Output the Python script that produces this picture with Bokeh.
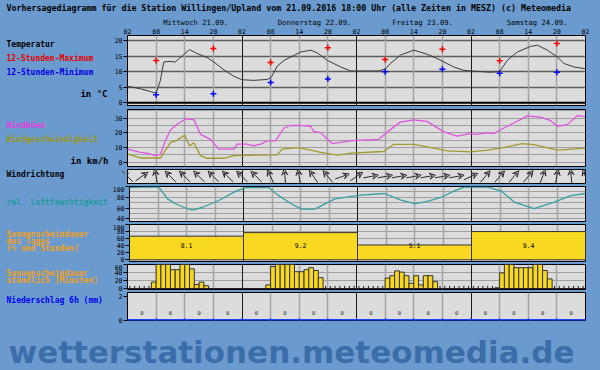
import math
from bokeh.plotting import figure
from bokeh.layouts import column, row
from bokeh.models import (Range1d, FixedTicker, Grid, Span, Label, Arrow, VeeHead,
                          ColumnDataSource)
from bokeh.core.properties import value
from bokeh.embed import file_html
from bokeh.resources import INLINE

# ---------------- data ----------------
title_text = ("Vorhersagediagramm für die Station Willingen/Upland vom 21.09.2016 "
              "18:00 Uhr (alle Zeiten in MESZ)   (c) Meteomedia")
day_labels = ["Mittwoch 21.09.", "Donnerstag 22.09.", "Freitag 23.09.", "Samstag 24.09."]
hour_ticks = list(range(0, 97, 6))          # hours since Wed 02:00
hour_labels = ["02", "08", "14", "20"] * 4 + ["02"]

# temperature curve (hour, °C)
temp_h = [0, 2.7, 4.8, 6, 6.9, 7.6, 8.7, 10, 11.5, 13, 14.6, 16.7, 18.1, 20.2, 22.3, 24,
          26.5, 29.3, 30.1, 31.4, 32.8, 34.9, 36.3, 38.4, 39.8, 41.9, 44.7, 46.8, 50.3,
          52.7, 54.1, 55.1, 57.2, 60, 62.8, 64.9, 66.3, 68.4, 70.5, 74, 76.1, 78, 79.6,
          81.7, 84.5, 85.9, 88, 90.1, 91.5, 93.6, 95.7, 96]
temp_v = [5.3, 4.5, 3.6, 3.1, 7.2, 13.1, 13.3, 13.1, 15.1, 17.1, 15.8, 14.5, 13.1, 10.6,
          8.5, 7.4, 7.2, 7.5, 8.1, 11.8, 13.6, 15.2, 16.3, 16.9, 16.0, 13.6, 11.5, 10.2,
          10.2, 10.2, 10.9, 12.6, 15.3, 16.9, 15.6, 14.2, 13.1, 11.5, 10.4, 10.0, 9.8,
          10.0, 13.6, 16.3, 18.1, 18.5, 16.9, 14.7, 12.6, 11.5, 11.0, 10.9]
ext_h = [6, 18, 30, 42, 54, 66, 78, 90]
tmax_12h = [13.6, 17.4, 12.9, 17.7, 13.9, 17.2, 13.5, 19.0]
tmin_12h = [2.6, 2.9, 6.5, 7.6, 10.0, 10.8, 9.5, 9.8]

# wind gusts and wind speed (hour, km/h)
gust_h = [0, 2.7, 4, 5.9, 6.9, 8, 9, 10.5, 12.2, 13.9, 15.3, 17.4, 19.1, 22.3, 23, 25,
          26.5, 27.9, 29.3, 31, 32.8, 34.2, 36.3, 38.4, 39, 40.5, 42.9, 44.3, 46.8, 49,
          52.6, 55.1, 57.2, 60, 62.8, 66.3, 69.1, 71.9, 73, 75.4, 76.8, 78.9, 81, 83.8,
          86.6, 88.7, 90.1, 92.2, 94.3, 96]
gust_v = [8.9, 6.7, 6.2, 4.5, 5.6, 15, 22, 26, 29.6, 29, 19, 15.6, 8.9, 8.9, 12.3, 12.3,
          11.2, 12.3, 14.5, 14.5, 23.3, 25, 25.1, 24.5, 21.1, 20, 12.7, 13.3, 14.5, 15,
          15.5, 22.2, 27.3, 28.9, 27.8, 20.7, 17.8, 19.6, 19, 20, 19.6, 23.3, 26.7, 31.6,
          30.7, 28.3, 24.5, 25.6, 31.8, 31.1]
wind_h = [0, 2.7, 6.9, 9, 10.4, 12, 13, 13.9, 15.3, 16.7, 20.2, 22.3, 27, 31.4, 32.4,
          35.6, 36.3, 38.4, 40.5, 44, 46.8, 53.7, 55.8, 60, 62.8, 67, 71.9, 75.4, 78.9,
          82.7, 85.2, 90.1, 96]
wind_v = [5.6, 2.9, 2.9, 13.3, 14.9, 18.5, 11.1, 13.3, 4.5, 2.7, 2.7, 4.5, 4.8, 5, 8.9,
          10, 9.6, 8.3, 6.7, 4.9, 6.2, 7.3, 12.2, 12.2, 10.5, 7.8, 7.1, 8.3, 10, 12.7, 12,
          8.3, 9.6]

# wind direction (meteorological, degrees "from"), every 3 hours
dir_h = list(range(0, 97, 3))
dir_from = [135, 235, 170, 135, 135, 135, 135, 135, 135, 135, 155, 175, 170, 145, 140,
            250, 235, 260, 260, 260, 260, 260, 260, 260, 245, 220, 220, 220, 220, 200,
            190, 175, 160]

# relative humidity (hour, %)
hum_h = [0, 3, 6.2, 8, 9.7, 11.5, 13.2, 15.3, 18.8, 22.3, 24.4, 29.3, 31.4, 34.2, 36.3,
         39, 43.2, 48.6, 53.7, 57, 60, 62.5, 65.6, 68.4, 70.5, 75.4, 78.2, 81, 85.2, 89.4,
         92.9, 96]
hum_v = [98, 99, 99, 77, 68, 61, 56, 61, 74, 91, 98, 98, 83, 67, 58, 58, 77, 84, 87, 75,
         68, 72, 80, 92, 99, 99, 92, 71, 59, 71, 83, 87]

# daily sunshine (% of possible) and hours
sun_day_pct = [67, 77, 42, 80]
sun_day_hours = ["8.1", "9.2", "5.1", "9.4"]

# hourly sunshine (minutes), slot 0 = 02-03 Uhr; None = no value
sun_wed = [0, 0, 0, 0, 0, 16, 60, 60, 60, 47, 47, 60, 60, 49, 10, 16, 7] + [None] * 7
sun_thu = [None] * 5 + [9, 55, 60, 60, 60, 60, 42, 42, 47, 52, 45, 27] + [0] * 7
sun_fri = [0] * 6 + [26, 32, 44, 41, 32, 13, 32, 9, 32, 32, 17] + [0] * 7
sun_sat = [0] * 5 + [2, 39, 60, 60, 52, 52, 52, 52, 60, 60, 45, 24] + [0] * 7

# 6-hour precipitation (mm)
precip_h = list(range(3, 96, 6))
precip = [0] * 16

# ---------------- style ----------------
BG = "#6b9bce"
PANEL = "#dcdcdc"
MONO = "DejaVu Sans Mono"
YELLOW = "#f8d820"
LEFT_W = 109          # width of the text column
AX_W = 18             # room for the y axes
PX_PER_H = 458 / 96
xr = Range1d(0, 96)
six_h = [h for h in range(6, 96, 6) if h % 24]
day_lines = [24, 48, 72]
BGSTYLE = {"background-color": BG}


def bare(width, height, x_range=None, y_range=None):
    p = figure(width=width, height=height, output_backend="svg", toolbar_location=None,
               title=None, x_axis_location=None, y_axis_location=None,
               x_range=x_range if x_range is not None else Range1d(0, width),
               y_range=y_range if y_range is not None else Range1d(0, height),
               min_border=0)
    p.background_fill_color = BG
    p.border_fill_color = BG
    p.outline_line_color = None
    p.grid.grid_line_color = None
    return p


def lab(p, x, y, text, color="black", size="8px", bold=True, align="left",
        font=MONO, baseline="middle"):
    p.add_layout(Label(x=x, y=y, x_units="screen", y_units="screen", text=text,
                       text_color=color, text_font=font, text_font_size=size,
                       text_font_style="bold" if bold else "normal",
                       text_align=align, text_baseline=baseline))


def panel(height, top, bottom, y0, y1, yticks, hgrid, hcolor="#a0a0a0", hwidth=1):
    p = figure(width=600 - LEFT_W, height=height, x_range=xr, y_range=Range1d(y0, y1),
               output_backend="svg", toolbar_location=None, title=None,
               x_axis_location=None, min_border_left=AX_W, min_border_right=15,
               min_border_top=top, min_border_bottom=bottom)
    p.background_fill_color = PANEL
    p.border_fill_color = BG
    p.outline_line_color = "black"
    p.outline_line_width = 1
    p.grid.grid_line_color = None
    ax = p.yaxis[0]
    ax.ticker = FixedTicker(ticks=yticks)
    ax.major_label_text_font = MONO
    ax.major_label_text_font_size = "6.5px"
    ax.major_label_text_color = "black"
    ax.major_tick_out = 4
    ax.major_tick_in = 0
    ax.minor_tick_line_color = None
    ax.axis_line_color = "black"
    ax.major_tick_line_color = "black"
    ax.major_label_standoff = 1
    p.add_layout(Grid(dimension=1, ticker=FixedTicker(ticks=hgrid),
                      grid_line_color=hcolor, grid_line_width=hwidth))
    p.add_layout(Grid(dimension=0, ticker=FixedTicker(ticks=six_h),
                      grid_line_color="#a4a4a4", grid_line_width=1.5))
    p.add_layout(Grid(dimension=0, ticker=FixedTicker(ticks=day_lines),
                      grid_line_color="#1a1a1a", grid_line_width=1))
    return p


# ---- header (title, day names, hours) ----
hx0 = -(LEFT_W + AX_W) / PX_PER_H
header = bare(600, 35, x_range=Range1d(hx0, hx0 + 600 / PX_PER_H))
lab(header, 6, 28, title_text, size="8.3px")
header.text(x=[i * 24 + 7.5 for i in range(4)], y=[13] * 4, text=day_labels,
            text_font=value(MONO), text_font_size="7.2px", text_align="left",
            text_baseline="middle", text_color="black")
header.text(x=hour_ticks, y=[4] * len(hour_ticks), text=hour_labels,
            text_font=value(MONO), text_font_size="6.5px", text_align="center",
            text_baseline="middle", text_color="black")

# ---- temperature ----
pA = panel(74, 0, 4, -0.87, 21.6, [0, 5, 10, 15, 20], [5, 10, 15, 20],
           hcolor="#5e5e5e", hwidth=1.5)
pA.add_layout(Span(location=0, dimension="width", line_color="black", line_width=2))
pA.line(temp_h, temp_v, line_color="#3a3a3a", line_width=1)
pA.scatter(ext_h, tmax_12h, marker="cross", size=6, line_color="#ee0000", line_width=1.5)
pA.scatter(ext_h, tmin_12h, marker="cross", size=6, line_color="#0000ee", line_width=1.5)
lA = bare(LEFT_W, 74)
lab(lA, 6, 61, "Temperatur")
lab(lA, 6, 47, "12-Stunden-Maximum", color="#e00000")
lab(lA, 6, 33, "12-Stunden-Minimum", color="#0000e0")
lab(lA, 107, 12, "in °C", align="right", size="9px")

# ---- wind ----
pB = panel(60, 0, 3, -2.9, 35.9, [0, 10, 20, 30], [0, 5, 10, 15, 20, 25, 30, 35])
pB.line(gust_h, gust_v, line_color="#e055e0", line_width=1.3)
pB.line(wind_h, wind_v, line_color="#a09a30", line_width=1.3)
lB = bare(LEFT_W, 60)
lab(lB, 6, 41, "Windböen", color="#e040e0")
lab(lB, 6, 27, "Windgeschwindigkeit", color="#9a9420")
lab(lB, 108, 6, "in km/h", align="right", size="9px")

# ---- wind direction ----
pC = panel(17, 0, 3, 0, 1, [], [])
L = 7.5
xs0, ys0, xs1, ys1 = [], [], [], []
for h, d in zip(dir_h, dir_from):
    to = math.radians(d + 180)
    dx = math.sin(to) * L / PX_PER_H
    dy = math.cos(to) * L / 14
    xs0.append(h - dx); ys0.append(0.5 - dy)
    xs1.append(h + dx); ys1.append(0.5 + dy)
asrc = ColumnDataSource(dict(x0=xs0, y0=ys0, x1=xs1, y1=ys1))
pC.add_layout(Arrow(source=asrc, x_start="x0", y_start="y0", x_end="x1", y_end="y1",
                    line_color="#2a2a2a", line_width=1,
                    end=VeeHead(size=6, line_color="#2a2a2a", line_width=1,
                                fill_color=None)))
lC = bare(LEFT_W, 17)
lab(lC, 6, 9, "Windrichtung")

# ---- humidity ----
pD = panel(38, 0, 3, 35, 100, [40, 60, 80, 100], [40, 50, 60, 70, 80, 90, 100])
pD.line(hum_h, hum_v, line_color="#35a0a0", line_width=1.3)
lD = bare(LEFT_W, 38)
lab(lD, 6, 19, "rel. Luftfeuchtigkeit", color="#1e9a9a")

# ---- daily sunshine ----
pE = panel(40, 0, 3, -4.8, 100, [0, 20, 40, 60, 80, 100], [20, 40, 60, 80])
d_left = [i * 24 for i in range(4)]
d_right = [i * 24 + 24 for i in range(4)]
pE.quad(left=d_left, right=d_right, bottom=0, top=sun_day_pct, fill_color=YELLOW,
        line_color="#333333", line_width=1)
pE.text(x=[i * 24 + 12 for i in range(4)], y=[40] * 4, text=sun_day_hours,
        text_font=value(MONO), text_font_size="6.5px", text_align="center",
        text_baseline="middle", text_color="black")
lE = bare(LEFT_W, 40)
lab(lE, 6, 27, "Sonnenscheindauer", color="#f0a020")
lab(lE, 6, 20, "des Tages", color="#f0a020")
lab(lE, 6, 13.5, "(% und Stunden)", color="#f0a020")

# ---- hourly sunshine ----
pF = panel(28, 0, 3, -2.5, 60, [0, 20, 40, 60], [20, 40])
hourly = sun_wed + sun_thu + sun_fri + sun_sat
bl, br, bt, tx = [], [], [], []
for i, v in enumerate(hourly):
    if v is None:
        continue
    if v > 0:
        bl.append(i); br.append(i + 1); bt.append(v)
    else:
        tx.append(i + 0.5)
pF.quad(left=bl, right=br, bottom=0, top=bt, fill_color=YELLOW, line_color="#333333",
        line_width=1)
pF.add_layout(Span(location=0, dimension="width", line_color="#222222", line_width=1))
pF.scatter(tx, [1.5] * len(tx), marker="dash", angle=math.pi / 2, size=4,
           line_color="#222222", line_width=1)
lF = bare(LEFT_W, 28)
lab(lF, 6, 16.5, "Sonnenscheindauer", color="#f0a020")
lab(lF, 6, 9.5, "stündlich (Minuten)", color="#f0a020")

# ---- precipitation ----
pG = panel(32, 0, 4, -0.04, 2.3, [0, 2], [])
pG.segment(x0=[h - 3 for h in precip_h], x1=[h + 3 for h in precip_h], y0=precip,
           y1=precip, line_color="#2040ff", line_width=2)
pG.scatter(x=[h - 3 for h in precip_h], y=precip, marker="dash", angle=math.pi / 2,
           size=4, line_color="#2040ff", line_width=1)
pG.text(x=precip_h, y=[0.6] * 16, text=[str(v) for v in precip],
        text_font=value(MONO), text_font_size="5.5px", text_align="center",
        text_baseline="middle", text_color="#222222")
lG = bare(LEFT_W, 32)
lab(lG, 6, 20.5, "Niederschlag 6h (mm)", color="#0000ee")

# ---- footer watermark ----
footer = bare(600, 46)
lab(footer, 8, 19, "wetterstationen.meteomedia.de", color="#3b6ea8", size="31px",
    font="DejaVu Sans", baseline="middle")

rows = [row(l, p, spacing=0, styles=BGSTYLE)
        for l, p in [(lA, pA), (lB, pB), (lC, pC), (lD, pD), (lE, pE), (lF, pF), (lG, pG)]]
layout = column([header] + rows + [footer], spacing=0, styles=BGSTYLE)
html = file_html(layout, INLINE)
html = html.replace("<body>", '<body style="margin:0;background:%s">' % BG, 1)
open("out.html", "w").write(html)
